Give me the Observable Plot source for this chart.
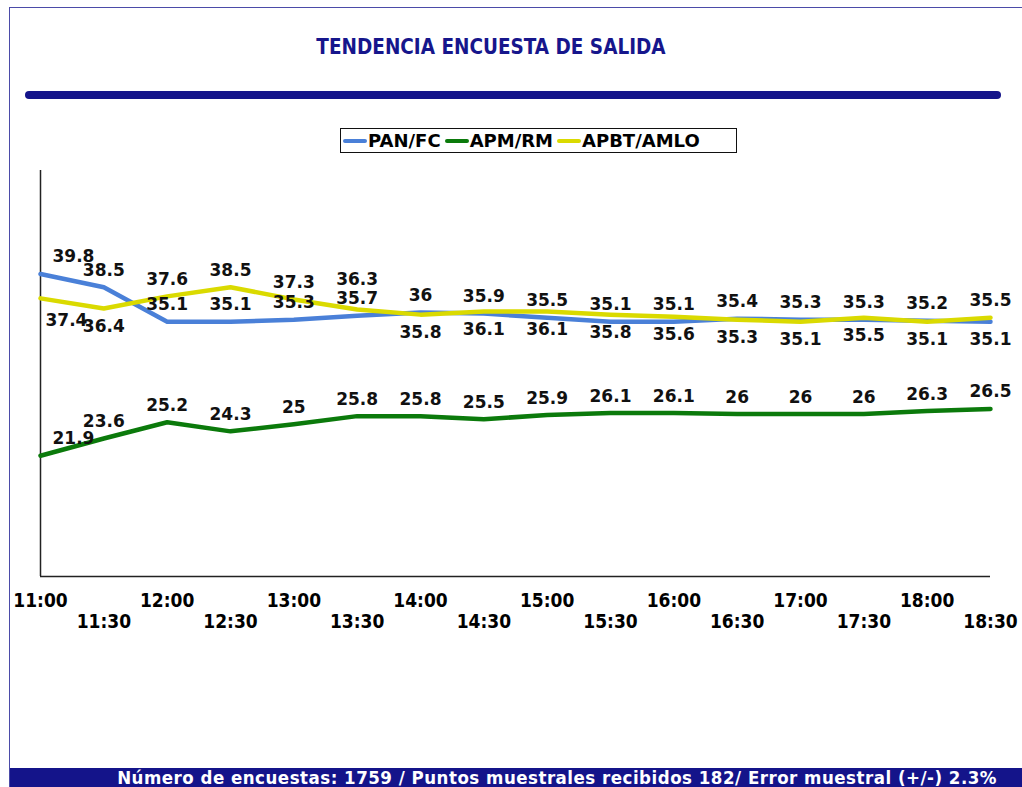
<!DOCTYPE html>
<html>
<head>
<meta charset="utf-8">
<script src="https://cdn.jsdelivr.net/npm/d3@7"></script>
<script src="https://cdn.jsdelivr.net/npm/@observablehq/plot@0.6"></script>
<style>
  html, body { margin: 0; padding: 0; background: #fff; }
  #page { position: relative; width: 1022px; height: 787px; overflow: hidden; background: #fff; }
  #frame { position: absolute; left: 9px; top: 7px; width: 1020px; height: 785px; border: 1.5px solid #4b4ba8; box-sizing: border-box; }
  #title { position: absolute; left: 0; width: 982px; top: 35px; text-align: center; font-family: "DejaVu Sans Condensed", "DejaVu Sans", sans-serif; font-stretch: condensed; font-weight: bold; font-size: 20.5px; color: #16168c; }
  #bar { position: absolute; left: 25px; top: 91px; width: 976px; height: 8px; border-radius: 4px; background: #14148a; }
  #legend { position: absolute; left: 340px; top: 128px; width: 397px; height: 25px; border: 1.5px solid #111; box-sizing: border-box; display: flex; align-items: center; padding-left: 2px; font-family: "DejaVu Sans", sans-serif; font-weight: bold; font-size: 18px; color: #000; }
  .item { display: flex; align-items: center; margin-right: 4px; }
  .sw { width: 24px; height: 4px; border-radius: 2px; margin-right: 1px; }
  #chart { position: absolute; left: 0; top: 160px; }
  #footer { position: absolute; left: 10px; top: 768px; width: 1012px; height: 19px; background: #14148a; color: #fff; font-family: "DejaVu Sans Condensed", "DejaVu Sans", sans-serif; font-stretch: condensed; font-weight: bold; font-size: 18.5px; letter-spacing: 0.5px; line-height: 19px; text-align: right; box-sizing: border-box; padding-right: 25px; white-space: nowrap; }
</style>
</head>
<body>
<div id="page">
  <div id="frame"></div>
  <div id="title">TENDENCIA ENCUESTA DE SALIDA</div>
  <div id="bar"></div>
  <div id="legend"></div>
  <div id="chart"></div>
  <div id="footer">Número de encuestas: 1759 / Puntos muestrales recibidos 182/ Error muestral (+/-) 2.3%</div>
</div>
<script>
// ---- data ----
const times = ["11:00","11:30","12:00","12:30","13:00","13:30","14:00","14:30","15:00","15:30","16:00","16:30","17:00","17:30","18:00","18:30"];
const seriesNames = ["PAN/FC", "APM/RM", "APBT/AMLO"];
const seriesColors = ["#4a80d8", "#0b7a0b", "#dada00"];
const panFC    = [39.8, 38.5, 35.1, 35.1, 35.3, 35.7, 36, 35.9, 35.5, 35.1, 35.1, 35.4, 35.3, 35.3, 35.2, 35.1];
const apmRM    = [21.9, 23.6, 25.2, 24.3, 25, 25.8, 25.8, 25.5, 25.9, 26.1, 26.1, 26, 26, 26, 26.3, 26.5];
const apbtAMLO = [37.4, 36.4, 37.6, 38.5, 37.3, 36.3, 35.8, 36.1, 36.1, 35.8, 35.6, 35.3, 35.1, 35.5, 35.1, 35.5];
// label side (above / below the line) as shown in the reference
const panLabelSide  = ["above","above","above","above","above","above","above","above","above","above","above","above","above","above","above","below"];
const apmLabelSide  = times.map(() => "above");
const apbtLabelSide = ["below","below","above","above","above","above","below","below","below","below","below","below","below","below","below","above"];

const seriesValues = [panFC, apmRM, apbtAMLO];
const seriesSides = [panLabelSide, apmLabelSide, apbtLabelSide];

const rows = seriesNames.flatMap((name, s) =>
  seriesValues[s].map((v, i) => ({series: name, t: i, value: v, side: seriesSides[s][i], lift: false}))
);

// simple collision avoidance: if two "above" labels at the same time are too close,
// lift the upper one further up (distance measured through the y scale)
const yScale = Plot.scale({y: {domain: [10, 50], range: [416, 10]}});
for (let i = 0; i < times.length; i++) {
  const above = rows.filter(d => d.t === i && d.side === "above").sort((a, b) => b.value - a.value);
  for (let k = 0; k + 1 < above.length; k++) {
    if (Math.abs(yScale.apply(above[k].value) - yScale.apply(above[k + 1].value)) < 13) above[k].lift = true;
  }
}

// legend
const legend = document.getElementById("legend");
seriesNames.forEach((n, i) => {
  const it = document.createElement("div");
  it.className = "item";
  it.innerHTML = `<span class="sw" style="background:${seriesColors[i]}"></span><span>${n}</span>`;
  legend.appendChild(it);
});

const labelFont = {fontFamily: "DejaVu Sans, sans-serif", fontSize: 17, fontWeight: "bold", fill: "#111"};
const tickFont = {fontFamily: "DejaVu Sans Condensed, DejaVu Sans, sans-serif", fontSize: 19, fontWeight: "bold", fill: "#000"};
const idx = times.map((_, i) => i);
const evenT = idx.filter(i => i % 2 === 0);
const oddT = idx.filter(i => i % 2 === 1);
const lbl = d => String(d.value);

const chart = Plot.plot({
  width: 1022,
  height: 471,
  marginLeft: 40,
  marginRight: 32,
  marginTop: 10,
  marginBottom: 55,
  x: {domain: [0, times.length - 1]},
  y: {domain: [10, 50], axis: null},
  color: {domain: seriesNames, range: seriesColors},
  marks: [
    Plot.ruleX([0], {stroke: "#222", strokeWidth: 1.5}),
    Plot.ruleY([10], {stroke: "#222", strokeWidth: 1.5}),
    Plot.line(rows, {x: "t", y: "value", z: "series", stroke: "series", strokeWidth: 4.5, strokeLinejoin: "round"}),
    Plot.text(rows.filter(d => d.side === "above" && d.t > 0 && !d.lift), {x: "t", y: "value", text: lbl, dy: -17, ...labelFont}),
    Plot.text(rows.filter(d => d.side === "above" && d.t > 0 && d.lift), {x: "t", y: "value", text: lbl, dy: -30, ...labelFont}),
    Plot.text(rows.filter(d => d.side === "below" && d.t > 0), {x: "t", y: "value", text: lbl, dy: 18, ...labelFont}),
    Plot.text(rows.filter(d => d.side === "above" && d.t === 0), {x: "t", y: "value", text: lbl, dy: -17, dx: 12, textAnchor: "start", ...labelFont}),
    Plot.text(rows.filter(d => d.side === "below" && d.t === 0), {x: "t", y: "value", text: lbl, dy: 22, dx: 5, textAnchor: "start", ...labelFont}),
    Plot.axisX(evenT, {label: null, tickSize: 0, tickPadding: 17, tickFormat: i => times[i], ...tickFont}),
    Plot.axisX(oddT, {label: null, tickSize: 0, tickPadding: 38, tickFormat: i => times[i], ...tickFont})
  ]
});
document.getElementById("chart").appendChild(chart);
</script>
</body>
</html>
